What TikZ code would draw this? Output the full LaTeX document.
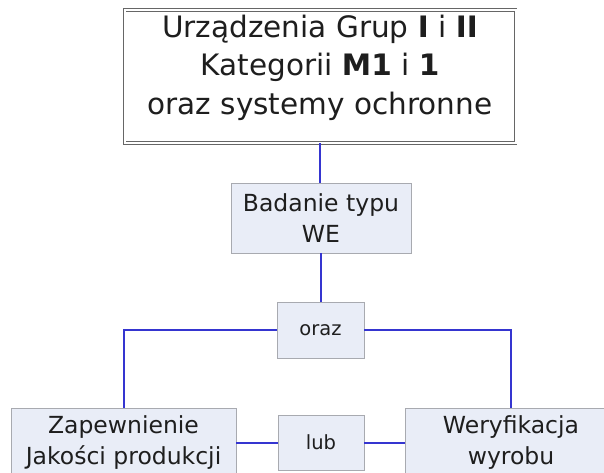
\documentclass[tikz,border=0pt]{standalone}
\usepackage{fontspec}
\setmainfont{DejaVu Sans}
\definecolor{boxfill}{HTML}{E9EDF7}
\definecolor{boxline}{HTML}{A8AAB0}
\definecolor{conn}{HTML}{3535D0}
\definecolor{txt}{HTML}{1E1E1E}
\begin{document}
\begin{tikzpicture}[x=1pt,y=1pt,
  topbox/.style={draw=gray!80!black, double=white, double distance=2pt, line width=0.9pt, fill=white,
    minimum width=391pt, minimum height=133pt, inner sep=0pt},
  toptext/.style={inner sep=0pt, align=center, text=txt, font=\fontsize{29.5}{38.5}\selectfont},
  pbox/.style={draw=boxline, fill=boxfill, line width=0.8pt, inner sep=0pt, align=center, text=txt},
  bigtext/.style={font=\fontsize{23.5}{31}\selectfont},
  smalltext/.style={font=\fontsize{19.5}{22}\selectfont},
  link/.style={draw=conn, line width=2pt}]
\useasboundingbox (0,0) rectangle (604,472);
\clip (0,0) rectangle (604,472);
\fill[white] (0,0) rectangle (604,472);

\node[topbox] (top) at (320,395.5) {};
\node[toptext] (toplabel) at ([yshift=9pt]top.center) {Urządzenia Grup \textbf{I} i \textbf{II}\\Kategorii \textbf{M1} i \textbf{1}\\oraz systemy ochronne};
\node[pbox, bigtext, minimum width=180pt, minimum height=70pt] (badanie) at (321,254) {Badanie typu\\WE};
\node[pbox, smalltext, minimum width=87pt, minimum height=56pt] (oraz) at (320.5,142) {oraz};
\node[pbox, bigtext, minimum width=225pt, minimum height=70pt] (left) at (123.5,29) {Zapewnienie\\Jakości produkcji};
\node[pbox, smalltext, minimum width=86pt, minimum height=55pt] (lub) at (321,29.5) {lub};
\node[pbox, bigtext, minimum width=212pt, minimum height=70pt] (right) at (511,29) {Weryfikacja\\wyrobu};

\draw[link] (top.south) -- (top.south |- badanie.north);
\draw[link] (badanie.south) -- (badanie.south |- oraz.north);
\draw[link] (oraz.west) -| (left.north);
\draw[link] (oraz.east) -| (right.north);
\draw[link] (left.east) -- (left.east -| lub.west);
\draw[link] (lub.east) -- (lub.east -| right.west);
\end{tikzpicture}
\end{document}
